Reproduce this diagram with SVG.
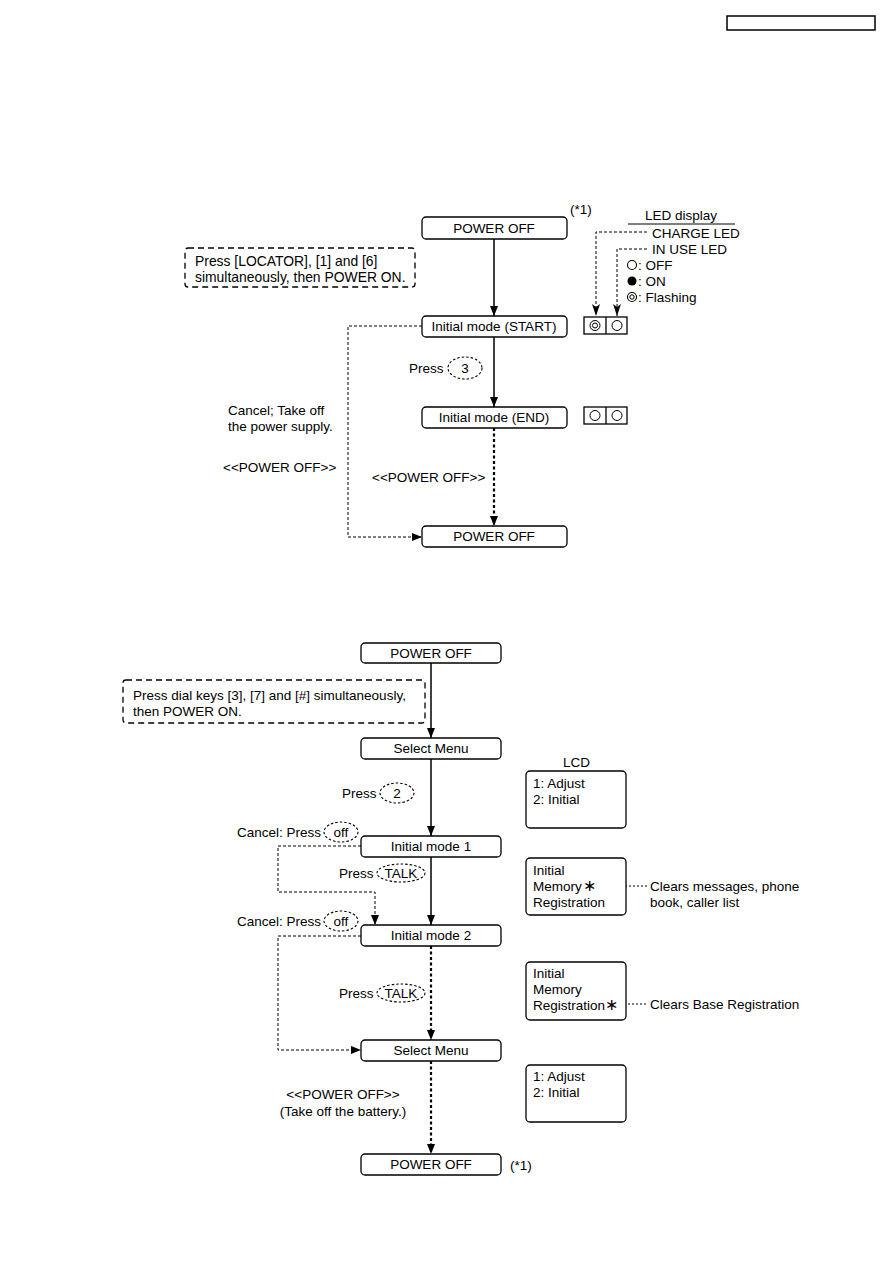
<svg xmlns="http://www.w3.org/2000/svg" width="893" height="1263" viewBox="0 0 893 1263">
<style>
text{font-family:"Liberation Sans",Arial,sans-serif;font-size:13.5px;fill:#000}
.c{text-anchor:middle}
.big{font-size:13.9px}
.box{fill:#fff;stroke:#000;stroke-width:1.3}
.lcd{fill:#fff;stroke:#000;stroke-width:1.3}
.note{fill:none;stroke:#000;stroke-width:1.3;stroke-dasharray:6,4}
.key{fill:none;stroke:#000;stroke-width:1.1;stroke-dasharray:2.5,2}
.solid{fill:none;stroke:#000;stroke-width:1.5}
.dash{fill:none;stroke:#000;stroke-width:1;stroke-dasharray:3,2}
.dot{fill:none;stroke:#000;stroke-width:2.2;stroke-dasharray:3,2.5}
.thin{fill:none;stroke:#000;stroke-width:1;stroke-dasharray:2,2}
.ast{font-size:16px}
</style>
<defs>
<marker id="arr" markerUnits="userSpaceOnUse" markerWidth="10" markerHeight="8" refX="10" refY="4" orient="auto">
<path d="M0,0 L10,4 L0,8 z" fill="#000"/>
</marker>
<marker id="vee" markerUnits="userSpaceOnUse" markerWidth="12" markerHeight="8" refX="12" refY="4" orient="auto">
<path d="M0,0 L12,4 L0,8 L3,4 z" fill="#000"/>
</marker>
</defs>
<rect x="727" y="16" width="148" height="14" fill="#fff" stroke="#000" stroke-width="1.5"/>

<g id="connectors">
<line class="solid" x1="494" y1="239" x2="494" y2="316" marker-end="url(#arr)"/>
<line class="solid" x1="494" y1="337" x2="494" y2="407" marker-end="url(#arr)"/>
<line class="dot" x1="494" y1="428" x2="494" y2="526" marker-end="url(#arr)"/>
<path class="dash" d="M422,326 H348 V537 H422" marker-end="url(#arr)"/>
<path class="dash" d="M647,232 H596 V316" marker-end="url(#vee)"/>
<path class="dash" d="M647,249 H617 V316" marker-end="url(#vee)"/>

<line class="solid" x1="431" y1="663" x2="431" y2="738" marker-end="url(#arr)"/>
<line class="solid" x1="431" y1="759" x2="431" y2="836" marker-end="url(#arr)"/>
<line class="solid" x1="431" y1="857" x2="431" y2="925" marker-end="url(#arr)"/>
<path class="dash" d="M361,846 H278 V892 H375 V925" marker-end="url(#arr)"/>
<line class="dot" x1="431" y1="946" x2="431" y2="1040" marker-end="url(#arr)"/>
<path class="dash" d="M361,936 H278 V1050 H361" marker-end="url(#arr)"/>
<line class="dot" x1="431" y1="1061" x2="431" y2="1154" marker-end="url(#arr)"/>
<line class="thin" x1="593" y1="886" x2="647" y2="886"/>
<line class="thin" x1="612" y1="1004" x2="647" y2="1004"/>
</g>

<!-- Top section -->
<g id="t_poweroff1">
<rect class="box" x="422" y="217" width="145" height="22" rx="4"/>
<text class="c" x="494" y="233">POWER OFF</text>
<text x="570" y="214" font-size="12">(*1)</text>
</g>
<g id="t_note">
<rect class="note" x="185" y="248" width="230" height="39" rx="3"/>
<text class="big" x="195" y="266">Press [LOCATOR], [1] and [6]</text>
<text class="big" x="195" y="282">simultaneously, then POWER ON.</text>
</g>
<g id="t_legend">
<text x="645" y="220">LED display</text>
<line x1="628" y1="224" x2="735" y2="224" stroke="#000" stroke-width="1"/>
<text x="652" y="238">CHARGE LED</text>
<text x="652" y="254">IN USE LED</text>
<circle cx="632" cy="265" r="4.5" fill="none" stroke="#000" stroke-width="1.1"/>
<text x="638" y="270">: OFF</text>
<circle cx="632" cy="281" r="4.5" fill="#000"/>
<text x="638" y="286">: ON</text>
<circle cx="632" cy="297" r="4.5" fill="none" stroke="#000" stroke-width="1.1"/>
<circle cx="632" cy="297" r="2.2" fill="none" stroke="#000" stroke-width="1"/>
<text x="638" y="302">: Flashing</text>
</g>
<g id="t_start">
<rect class="box" x="422" y="316" width="145" height="21" rx="4"/>
<text class="c" x="494" y="331">Initial mode (START)</text>
</g>
<g id="t_led1">
<rect x="584" y="317" width="43" height="17" fill="#fff" stroke="#000" stroke-width="1.3"/>
<line x1="606" y1="317" x2="606" y2="334" stroke="#000" stroke-width="1.3"/>
<circle cx="595" cy="325.5" r="5" fill="none" stroke="#000" stroke-width="1"/>
<circle cx="595" cy="325.5" r="2.5" fill="none" stroke="#000" stroke-width="1"/>
<circle cx="617" cy="325.5" r="5" fill="none" stroke="#000" stroke-width="1"/>
</g>
<g id="t_press3">
<text x="409" y="373">Press</text>
<ellipse class="key" cx="465" cy="368" rx="17" ry="11"/>
<text class="c" x="465" y="373">3</text>
</g>
<g id="t_cancel">
<text x="228" y="415">Cancel; Take off</text>
<text x="228" y="431">the power supply.</text>
<text x="223" y="472">&lt;&lt;POWER OFF&gt;&gt;</text>
</g>
<g id="t_end">
<rect class="box" x="422" y="407" width="145" height="21" rx="4"/>
<text class="c" x="494" y="422">Initial mode (END)</text>
</g>
<g id="t_led2">
<rect x="584" y="407" width="43" height="17" fill="#fff" stroke="#000" stroke-width="1.3"/>
<line x1="606" y1="407" x2="606" y2="424" stroke="#000" stroke-width="1.3"/>
<circle cx="595" cy="415.5" r="5" fill="none" stroke="#000" stroke-width="1"/>
<circle cx="617" cy="415.5" r="5" fill="none" stroke="#000" stroke-width="1"/>
</g>
<g id="t_label_off">
<text x="372" y="482">&lt;&lt;POWER OFF&gt;&gt;</text>
</g>
<g id="t_poweroff2">
<rect class="box" x="422" y="526" width="145" height="21" rx="4"/>
<text class="c" x="494" y="541">POWER OFF</text>
</g>

<!-- Bottom section -->
<g id="b_poweroff1">
<rect class="box" x="361" y="643" width="140" height="20" rx="4"/>
<text class="c" x="431" y="658">POWER OFF</text>
</g>
<g id="b_note">
<rect class="note" x="123" y="680" width="302" height="43" rx="3"/>
<text x="133" y="700">Press dial keys [3], [7] and [#] simultaneously,</text>
<text x="133" y="716">then POWER ON.</text>
</g>
<g id="b_select1">
<rect class="box" x="361" y="738" width="140" height="21" rx="4"/>
<text class="c" x="431" y="753">Select Menu</text>
</g>
<g id="b_lcd_label">
<text x="563" y="767">LCD</text>
</g>
<g id="b_lcd1">
<rect class="lcd" x="526" y="771" width="100" height="57" rx="4"/>
<text x="533" y="788">1: Adjust</text>
<text x="533" y="804">2: Initial</text>
</g>
<g id="b_press2">
<text x="342" y="798">Press</text>
<ellipse class="key" cx="397" cy="793" rx="17" ry="10"/>
<text class="c" x="397" y="798">2</text>
</g>
<g id="b_cancel1">
<text x="237" y="837">Cancel: Press</text>
<ellipse class="key" cx="341" cy="832" rx="17" ry="10"/>
<text class="c" x="341" y="837">off</text>
</g>
<g id="b_mode1">
<rect class="box" x="361" y="836" width="140" height="21" rx="4"/>
<text class="c" x="431" y="851">Initial mode 1</text>
</g>
<g id="b_talk1">
<text x="339" y="878">Press</text>
<ellipse class="key" cx="401" cy="873" rx="24" ry="9"/>
<text class="c" x="401" y="878">TALK</text>
</g>
<g id="b_lcd2">
<rect class="lcd" x="526" y="858" width="100" height="57" rx="4"/>
<text x="533" y="875">Initial</text>
<text x="533" y="891">Memory<tspan class="ast" dx="1">∗</tspan></text>
<text x="533" y="907">Registration</text>
<text x="650" y="891">Clears messages, phone</text>
<text x="650" y="907">book, caller list</text>
</g>
<g id="b_cancel2">
<text x="237" y="926">Cancel: Press</text>
<ellipse class="key" cx="341" cy="921" rx="17" ry="10"/>
<text class="c" x="341" y="926">off</text>
</g>
<g id="b_mode2">
<rect class="box" x="361" y="925" width="140" height="21" rx="4"/>
<text class="c" x="431" y="940">Initial mode 2</text>
</g>
<g id="b_lcd3">
<rect class="lcd" x="526" y="962" width="100" height="58" rx="4"/>
<text x="533" y="978">Initial</text>
<text x="533" y="994">Memory</text>
<text x="533" y="1010">Registration<tspan class="ast">∗</tspan></text>
<text x="650" y="1009">Clears Base Registration</text>
</g>
<g id="b_talk2">
<text x="339" y="998">Press</text>
<ellipse class="key" cx="401" cy="993" rx="24" ry="9"/>
<text class="c" x="401" y="998">TALK</text>
</g>
<g id="b_select2">
<rect class="box" x="361" y="1040" width="140" height="21" rx="4"/>
<text class="c" x="431" y="1055">Select Menu</text>
</g>
<g id="b_lcd4">
<rect class="lcd" x="526" y="1065" width="100" height="57" rx="4"/>
<text x="533" y="1081">1: Adjust</text>
<text x="533" y="1097">2: Initial</text>
</g>
<g id="b_label_off">
<text class="c" x="343" y="1099">&lt;&lt;POWER OFF&gt;&gt;</text>
<text class="c" x="343" y="1116">(Take off the battery.)</text>
</g>
<g id="b_poweroff2">
<rect class="box" x="361" y="1154" width="140" height="21" rx="4"/>
<text class="c" x="431" y="1169">POWER OFF</text>
<text x="510" y="1170">(*1)</text>
</g>
</svg>
